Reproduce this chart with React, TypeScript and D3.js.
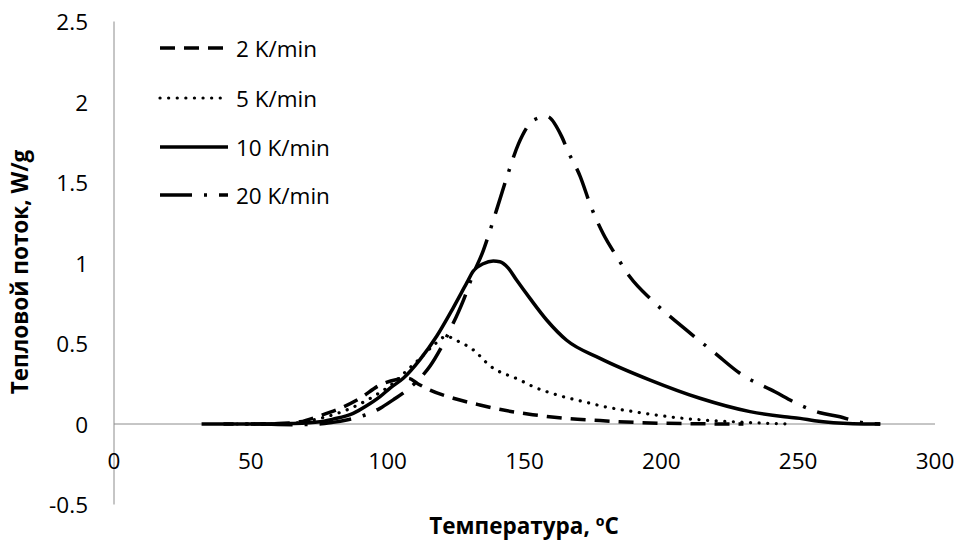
import React from "react";
import * as d3 from "d3";

const seriesNames = ["2 K/min", "5 K/min", "10 K/min", "20 K/min"];

const t2 = [50, 60, 68, 75.3, 82.6, 89.9, 97.2, 103, 107.5, 111, 115.5, 124, 133.7, 145, 153, 165, 177.6, 190, 202, 215, 230];
const v2 = [0, 0.003, 0.014, 0.052, 0.097, 0.16, 0.242, 0.275, 0.284, 0.25, 0.21, 0.16, 0.118, 0.078, 0.058, 0.035, 0.021, 0.01, 0.004, 0.001, 0];

const t5 = [45, 60, 68, 75.3, 85, 94.7, 102, 107.5, 112, 117.5, 121.5, 125, 131.3, 137.5, 148.3, 153.2, 162, 171.5, 180, 189.8, 208, 226.3, 238, 248];
const v5 = [0, 0, 0.01, 0.035, 0.087, 0.17, 0.253, 0.34, 0.41, 0.5, 0.545, 0.52, 0.46, 0.36, 0.273, 0.232, 0.18, 0.139, 0.105, 0.077, 0.035, 0.014, 0.005, 0];

const t10 = [40, 55, 65, 75.3, 80, 87.4, 92, 97.2, 101, 105.7, 111.8, 117.9, 123.9, 128.9, 131.3, 134.9, 138.6, 141, 144, 147.1, 152, 158.1, 165.4, 177.6, 195.9, 214.1, 232.4, 245, 250.7, 256, 262.9, 270, 280];
const v10 = [0, 0, 0.003, 0.014, 0.03, 0.066, 0.11, 0.17, 0.225, 0.284, 0.4, 0.545, 0.72, 0.876, 0.95, 0.995, 1.012, 1.008, 0.97, 0.894, 0.78, 0.646, 0.52, 0.408, 0.273, 0.16, 0.077, 0.045, 0.035, 0.02, 0.008, 0.002, 0];

const t20 = [32, 50, 65, 75, 80, 85, 91.7, 97.2, 102, 107, 111.8, 115.5, 119.1, 122.8, 127.7, 131, 135, 137, 139.8, 143.5, 147.8, 153.6, 158.1, 163.6, 166, 170.3, 174.3, 178.8, 183.7, 188.5, 196.5, 208, 219.6, 228.7, 241.5, 250.7, 258, 265.3, 270.2, 275, 280];
const v20 = [0, 0, -0.004, 0, 0.01, 0.025, 0.056, 0.097, 0.15, 0.21, 0.284, 0.36, 0.46, 0.585, 0.77, 0.92, 1.08, 1.18, 1.33, 1.53, 1.74, 1.89, 1.91, 1.785, 1.69, 1.54, 1.35, 1.18, 1.04, 0.915, 0.77, 0.6, 0.44, 0.315, 0.2, 0.118, 0.07, 0.045, 0.02, 0.005, 0];

const xTicks = [0, 50, 100, 150, 200, 250, 300];
const yTicks = [-0.5, 0, 0.5, 1, 1.5, 2, 2.5];

const xTitle = "Температура, ºC";
const yTitle = "Тепловой поток, W/g";

const FONT = "'Open Sans', Lato, sans-serif";

export default function App() {
  const W = 960, H = 540;
  const x = d3.scaleLinear().domain([0, 300]).range([114, 935]);
  const y = d3.scaleLinear().domain([-0.5, 2.5]).range([504.5, 21.5]);

  const series = [
    { name: seriesNames[0], t: t2, v: v2, dash: "15 9", width: 3.5, cap: "butt" },
    { name: seriesNames[1], t: t5, v: v5, dash: "0.1 8.5", width: 3.2, cap: "round" },
    { name: seriesNames[2], t: t10, v: v10, dash: "none", width: 3.5, cap: "butt" },
    { name: seriesNames[3], t: t20, v: v20, dash: "32 12 3 12", width: 3.5, cap: "butt" },
  ];

  const line = d3
    .line<[number, number]>()
    .x((d) => x(d[0]))
    .y((d) => y(d[1]))
    .curve(d3.curveMonotoneX);

  const legendY = [48, 98, 147, 195];

  return (
    <svg
      width={W}
      height={H}
      style={{ position: "absolute", left: 0, top: 0, background: "#fff" }}
      fontFamily={FONT}
    >
      <rect x={0} y={0} width={W} height={H} fill="#fff" />
      <line x1={x(0)} x2={x(0)} y1={y(2.5)} y2={y(-0.5)} stroke="#8c8c8c" strokeWidth={1} />
      <line x1={x(0)} x2={x(300)} y1={y(0)} y2={y(0)} stroke="#8c8c8c" strokeWidth={1} />

      {yTicks.map((t) => (
        <text key={"y" + t} x={88} y={y(t)} textAnchor="end" dominantBaseline="central" fontSize={22.5} fill="#000">
          {t}
        </text>
      ))}
      {xTicks.map((t) => (
        <text key={"x" + t} x={x(t)} y={460} textAnchor="middle" dominantBaseline="central" fontSize={22.5} fill="#000">
          {t}
        </text>
      ))}

      {series.map((s) => (
        <path
          key={s.name}
          d={line(s.t.map((tt, i) => [tt, s.v[i]] as [number, number])) || ""}
          fill="none"
          stroke="#000"
          strokeWidth={s.width}
          strokeDasharray={s.dash}
          strokeLinecap={s.cap as any}
        />
      ))}

      {series.map((s, i) => (
        <g key={"lg" + s.name}>
          <line x1={160} x2={228} y1={legendY[i]} y2={legendY[i]} stroke="#000" strokeWidth={s.width}
            strokeDasharray={s.dash} strokeLinecap={s.cap as any} />
          <text x={236} y={legendY[i]} dominantBaseline="central" fontSize={22.5} fill="#000">
            {s.name}
          </text>
        </g>
      ))}

      <text x={524} y={525} textAnchor="middle" dominantBaseline="central" fontSize={22.5} fontWeight="bold" fill="#000">
        {xTitle}
      </text>
      <text
        transform={`translate(19, 272) rotate(-90)`}
        textAnchor="middle"
        dominantBaseline="central"
        fontSize={22.5}
        fontWeight="bold"
        fill="#000"
      >
        {yTitle}
      </text>
    </svg>
  );
}
